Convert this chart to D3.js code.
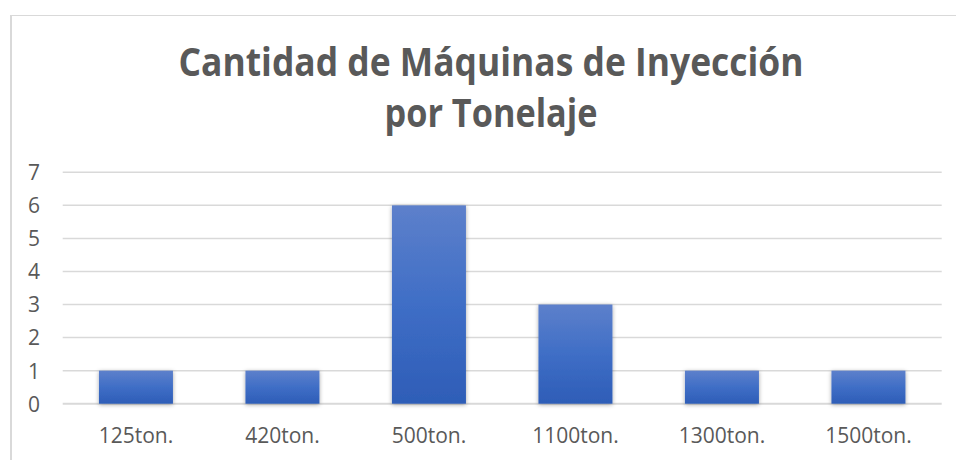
<!DOCTYPE html>
<html><head><meta charset="utf-8">
<script src="https://cdn.jsdelivr.net/npm/d3@7"></script>
<style>body{margin:0;background:#fff;} svg{display:block;}</style>
</head><body>
<script>
const categories = ["125ton.","420ton.","500ton.","1100ton.","1300ton.","1500ton."];
const values = [1,1,6,3,1,1];
const yTicks = [0,1,2,3,4,5,6,7];
const titleLines = ["Cantidad de Máquinas de Inyección","por Tonelaje"];

const W=956,H=460;
const svg=d3.select("body").append("svg").attr("width",W).attr("height",H);
const defs=svg.append("defs");
const grad=defs.append("linearGradient").attr("id","bg").attr("x1",0).attr("y1",0).attr("x2",0).attr("y2",1);
grad.append("stop").attr("offset","0%").attr("stop-color","#5d80cb");
grad.append("stop").attr("offset","50%").attr("stop-color","#3f6ec6");
grad.append("stop").attr("offset","100%").attr("stop-color","#2e5db7");
const f=defs.append("filter").attr("id","sh").attr("x","-20%").attr("y","-20%").attr("width","140%").attr("height","140%");
f.append("feDropShadow").attr("dx",0).attr("dy",1).attr("stdDeviation",2.2).attr("flood-color","#000").attr("flood-opacity",0.35);

// chart border
svg.append("path").attr("d",`M11,${H} L11,15.5 L${W},15.5`).attr("fill","none").attr("stroke","#d9d9d9").attr("stroke-width",1);
svg.append("line").attr("x1",11).attr("x2",11).attr("y1",15).attr("y2",H).attr("stroke","#d9d9d9").attr("stroke-width",2);

const x=d3.scaleBand().domain(categories).range([62.7,941.7]).paddingInner(0.495).paddingOuter(0.2475);
const y=d3.scaleLinear().domain([0,7]).range([403.7,172.3]);

// gridlines
svg.append("g").selectAll("line").data(yTicks).join("line")
  .attr("x1",62.7).attr("x2",941.7).attr("y1",d=>y(d)).attr("y2",d=>y(d))
  .attr("stroke","#d9d9d9").attr("stroke-width",d=>d===0?2:1.5);

// y axis
const ya=svg.append("g").attr("transform","translate(40,0)").call(d3.axisLeft(y).tickValues(yTicks).tickSize(0).tickPadding(0).tickFormat(d3.format("d")));
ya.select(".domain").remove();
ya.selectAll("text").attr("font-family","'Open Sans'").attr("font-size",21).attr("fill","#595959").attr("dy","0.35em");

// bars
svg.append("g").selectAll("rect").data(values).join("rect")
  .attr("x",(d,i)=>x(categories[i])).attr("width",x.bandwidth())
  .attr("y",d=>y(d)).attr("height",d=>y(0)-y(d))
  .attr("fill","url(#bg)").attr("filter","url(#sh)");

// x axis
const xa=svg.append("g").attr("transform",`translate(0,${y(0)})`).call(d3.axisBottom(x).tickSize(0).tickPadding(0));
xa.select(".domain").remove();
xa.selectAll("text").attr("font-family","'Open Sans'").attr("font-size",21).attr("fill","#595959").attr("dy",0).attr("y",39.5);

// title
const tw=[625,213];
svg.append("g").selectAll("text").data(titleLines).join("text")
  .attr("x",491).attr("y",(d,i)=>76+i*51).attr("text-anchor","middle")
  .attr("font-family","'Open Sans'").attr("font-weight","bold").attr("font-size",38.5)
  .attr("fill","#595959").attr("textLength",(d,i)=>tw[i]).attr("lengthAdjust","spacingAndGlyphs")
  .text(d=>d);
</script>
</body></html>
